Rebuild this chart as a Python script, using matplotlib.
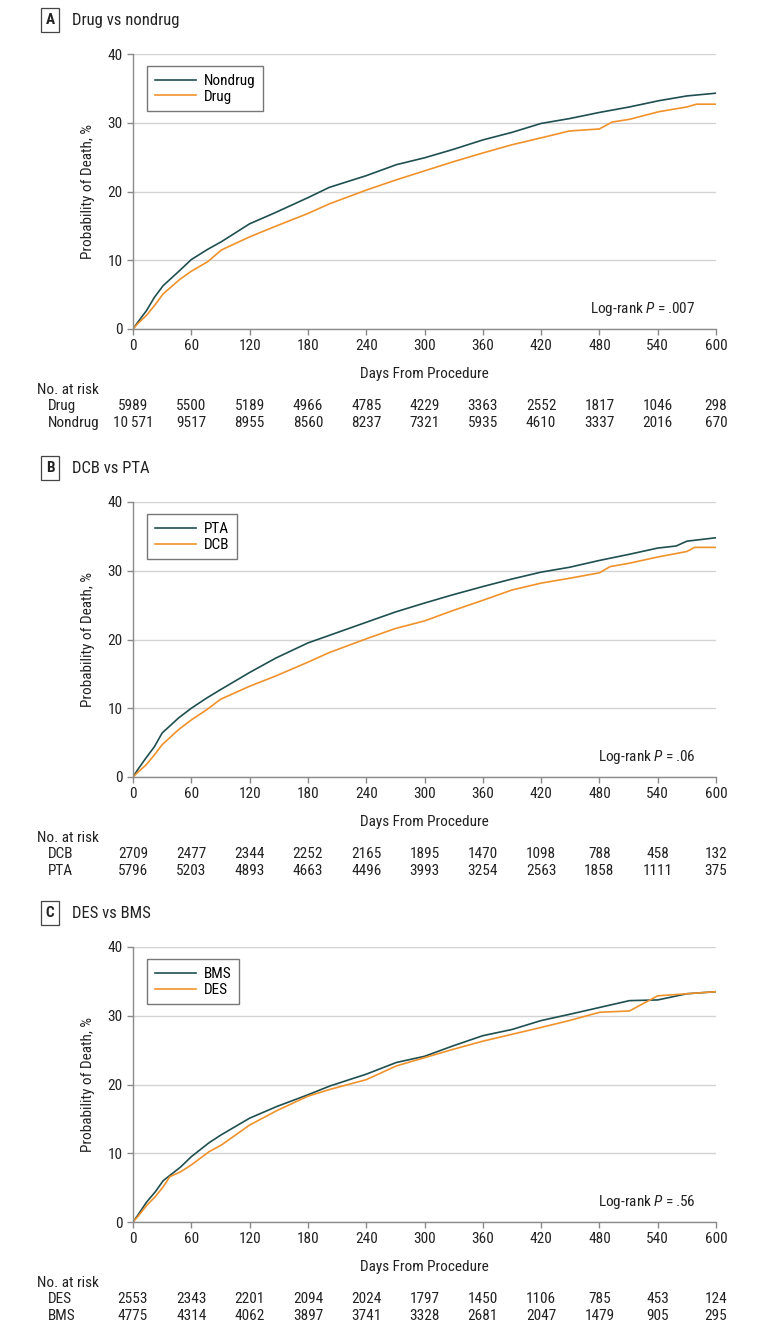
import numpy as np
import matplotlib
matplotlib.use("Agg")
import matplotlib.pyplot as plt
from matplotlib import font_manager as fm

# pick a narrow sans if one is present
have = {f.name for f in fm.fontManager.ttflist}
cands = ['DejaVu Sans Condensed', 'Roboto Condensed', 'Liberation Sans Narrow', 'Lato', 'DejaVu Sans']
base_font = [c for c in cands if c in have][0]
print("font:", base_font)
plt.rcParams['font.family'] = [base_font, 'DejaVu Sans']
plt.rcParams['mathtext.fontset'] = 'custom'
plt.rcParams['mathtext.it'] = base_font + ':italic'
plt.rcParams['mathtext.rm'] = base_font

TEAL = "#1f4f50"
ORANGE = "#f0922b"
GRID = "#d3d3d3"
SPINE = "#8a8a8a"
FS = 11

xticks = [0, 60, 120, 180, 240, 300, 360, 420, 480, 540, 600]
yticks = [0, 10, 20, 30, 40]

# panel A: drug vs nondrug
days_a_nondrug = [0, 5, 14, 22, 31, 48, 60, 77, 91, 120, 146, 180, 202, 240, 271, 300, 329, 360, 390, 420, 449, 480, 511, 541, 570, 600]
prob_a_nondrug = [0, 1.0, 2.7, 4.6, 6.3, 8.5, 10.1, 11.6, 12.7, 15.3, 16.9, 19.1, 20.6, 22.3, 23.9, 24.9, 26.1, 27.5, 28.6, 29.9, 30.6, 31.5, 32.3, 33.2, 33.9, 34.3]
days_a_drug = [0, 5, 14, 22, 31, 48, 60, 77, 91, 120, 146, 180, 202, 240, 271, 300, 329, 360, 390, 420, 449, 480, 493, 511, 541, 570, 580, 600]
prob_a_drug = [0, 0.8, 2.0, 3.4, 5.1, 7.2, 8.4, 9.8, 11.5, 13.4, 14.9, 16.8, 18.2, 20.2, 21.7, 23.0, 24.3, 25.6, 26.8, 27.8, 28.8, 29.1, 30.1, 30.5, 31.6, 32.3, 32.7, 32.7]
risk_a_drug = ["5989", "5500", "5189", "4966", "4785", "4229", "3363", "2552", "1817", "1046", "298"]
risk_a_nondrug = ["10\u2009571", "9517", "8955", "8560", "8237", "7321", "5935", "4610", "3337", "2016", "670"]

# panel B: DCB vs PTA
days_b_pta = [0, 5, 13, 22, 30, 47, 60, 76, 90, 120, 147, 180, 202, 240, 270, 300, 329, 360, 390, 420, 449, 480, 511, 540, 559, 570, 600]
prob_b_pta = [0, 1.1, 2.7, 4.4, 6.4, 8.6, 10.0, 11.5, 12.7, 15.2, 17.3, 19.5, 20.6, 22.5, 24.0, 25.3, 26.5, 27.7, 28.8, 29.8, 30.5, 31.5, 32.4, 33.3, 33.6, 34.3, 34.8]
days_b_dcb = [0, 5, 13, 22, 30, 47, 60, 76, 90, 120, 147, 180, 202, 240, 270, 300, 329, 360, 390, 420, 449, 480, 491, 511, 540, 570, 578, 600]
prob_b_dcb = [0, 0.7, 1.7, 3.2, 4.7, 6.9, 8.3, 9.8, 11.3, 13.2, 14.7, 16.7, 18.1, 20.1, 21.6, 22.7, 24.2, 25.7, 27.2, 28.2, 28.9, 29.7, 30.6, 31.1, 32.0, 32.8, 33.4, 33.4]
risk_b_dcb = ["2709", "2477", "2344", "2252", "2165", "1895", "1470", "1098", "788", "458", "132"]
risk_b_pta = ["5796", "5203", "4893", "4663", "4496", "3993", "3254", "2563", "1858", "1111", "375"]

# panel C: DES vs BMS
days_c_bms = [0, 5, 14, 23, 31, 49, 60, 78, 91, 120, 148, 180, 203, 240, 271, 300, 329, 360, 390, 420, 449, 480, 511, 540, 570, 600]
prob_c_bms = [0, 1.0, 2.9, 4.4, 6.0, 8.0, 9.5, 11.5, 12.7, 15.1, 16.8, 18.5, 19.8, 21.5, 23.2, 24.1, 25.6, 27.1, 28.0, 29.3, 30.2, 31.2, 32.2, 32.3, 33.2, 33.5]
days_c_des = [0, 5, 14, 23, 31, 38, 49, 60, 78, 91, 120, 148, 180, 203, 240, 271, 300, 329, 360, 390, 420, 449, 480, 511, 540, 570, 600]
prob_c_des = [0, 0.8, 2.4, 3.7, 5.1, 6.6, 7.3, 8.3, 10.2, 11.2, 14.1, 16.2, 18.3, 19.3, 20.7, 22.7, 23.9, 25.1, 26.3, 27.3, 28.3, 29.3, 30.5, 30.7, 32.9, 33.2, 33.5]
risk_c_des = ["2553", "2343", "2201", "2094", "2024", "1797", "1450", "1106", "785", "453", "124"]
risk_c_bms = ["4775", "4314", "4062", "3897", "3741", "3328", "2681", "2047", "1479", "905", "295"]

panels = [
    dict(letter="A", title="Drug vs nondrug", top=54,
         top_name="Nondrug", top_x=days_a_nondrug, top_y=prob_a_nondrug,
         low_name="Drug", low_x=days_a_drug, low_y=prob_a_drug,
         p="Log-rank $P$\u2009=\u2009.007",
         rows=[("Drug", risk_a_drug), ("Nondrug", risk_a_nondrug)]),
    dict(letter="B", title="DCB vs PTA", top=502,
         top_name="PTA", top_x=days_b_pta, top_y=prob_b_pta,
         low_name="DCB", low_x=days_b_dcb, low_y=prob_b_dcb,
         p="Log-rank $P$\u2009=\u2009.06",
         rows=[("DCB", risk_b_dcb), ("PTA", risk_b_pta)]),
    dict(letter="C", title="DES vs BMS", top=947,
         top_name="BMS", top_x=days_c_bms, top_y=prob_c_bms,
         low_name="DES", low_x=days_c_des, low_y=prob_c_des,
         p="Log-rank $P$\u2009=\u2009.56",
         rows=[("DES", risk_c_des), ("BMS", risk_c_bms)]),
]

W, H = 780, 1335
fig = plt.figure(figsize=(W / 100, H / 100), dpi=100)

x0, x1 = 133, 716
hpx = 275

for pn in panels:
    top = pn["top"]
    ax = fig.add_axes([x0 / W, 1 - (top + hpx) / H, (x1 - x0) / W, hpx / H])
    ax.set_xlim(0, 600)
    ax.set_ylim(0, 40)
    ax.set_xticks(xticks)
    ax.set_yticks(yticks)
    ax.grid(axis="y", color=GRID, lw=1)
    ax.set_axisbelow(True)
    for s in ["top", "right"]:
        ax.spines[s].set_visible(False)
    for s in ["left", "bottom"]:
        ax.spines[s].set_color(SPINE)
        ax.spines[s].set_linewidth(1)
    ax.tick_params(colors=SPINE, labelcolor="#222222", labelsize=FS, length=4, width=1)

    ax.plot(pn["top_x"], pn["top_y"], color=TEAL, lw=1.2, label=pn["top_name"])
    ax.plot(pn["low_x"], pn["low_y"], color=ORANGE, lw=1.2, label=pn["low_name"])

    leg = ax.legend(loc="upper left", bbox_to_anchor=(0.024, 0.955), fontsize=FS,
                    frameon=True, fancybox=False, handlelength=2.7, handletextpad=0.5,
                    borderpad=0.5, labelspacing=0.12, borderaxespad=0)
    leg.get_frame().set_edgecolor("#555555")
    leg.get_frame().set_linewidth(1)

    ax.set_ylabel("Probability of Death, %", fontsize=FS, color="#222222")
    ax.yaxis.set_label_coords((95 - x0) / (x1 - x0), 0.5)
    ax.set_xlabel("Days From Procedure", fontsize=FS, color="#222222")
    ax.xaxis.set_label_coords(0.5, -(367 - 329) / hpx)

    ax.text(0.965, 0.073, pn["p"], transform=ax.transAxes, ha="right", va="center",
            fontsize=FS, color="#222222")

    # panel label and title
    ly = 1 - (top - 34) / H
    fig.text(50 / W, ly, pn["letter"], ha="center", va="center", fontsize=FS,
             fontweight="bold", color="#222222",
             bbox=dict(boxstyle="square,pad=0.3", fc="white", ec="#444444", lw=0.9))
    fig.text(72 / W, ly, pn["title"], ha="left", va="center", fontsize=12, color="#222222")

    # number at risk table
    tr = ax.get_xaxis_transform()
    ax.text((37 - x0) / (x1 - x0) * 600, -(390 - 329) / hpx, "No. at risk", transform=tr,
            ha="left", va="center", fontsize=FS, color="#222222", clip_on=False)
    for i, (name, vals) in enumerate(pn["rows"]):
        yy = -(406 + 17 * i - 329) / hpx
        ax.text((48 - x0) / (x1 - x0) * 600, yy, name, transform=tr, ha="left", va="center",
                fontsize=FS, color="#222222", clip_on=False)
        for xt, v in zip(xticks, vals):
            ax.text(xt, yy, v, transform=tr, ha="center", va="center", fontsize=FS,
                    color="#222222", clip_on=False)

fig.savefig("out.png", dpi=100)
